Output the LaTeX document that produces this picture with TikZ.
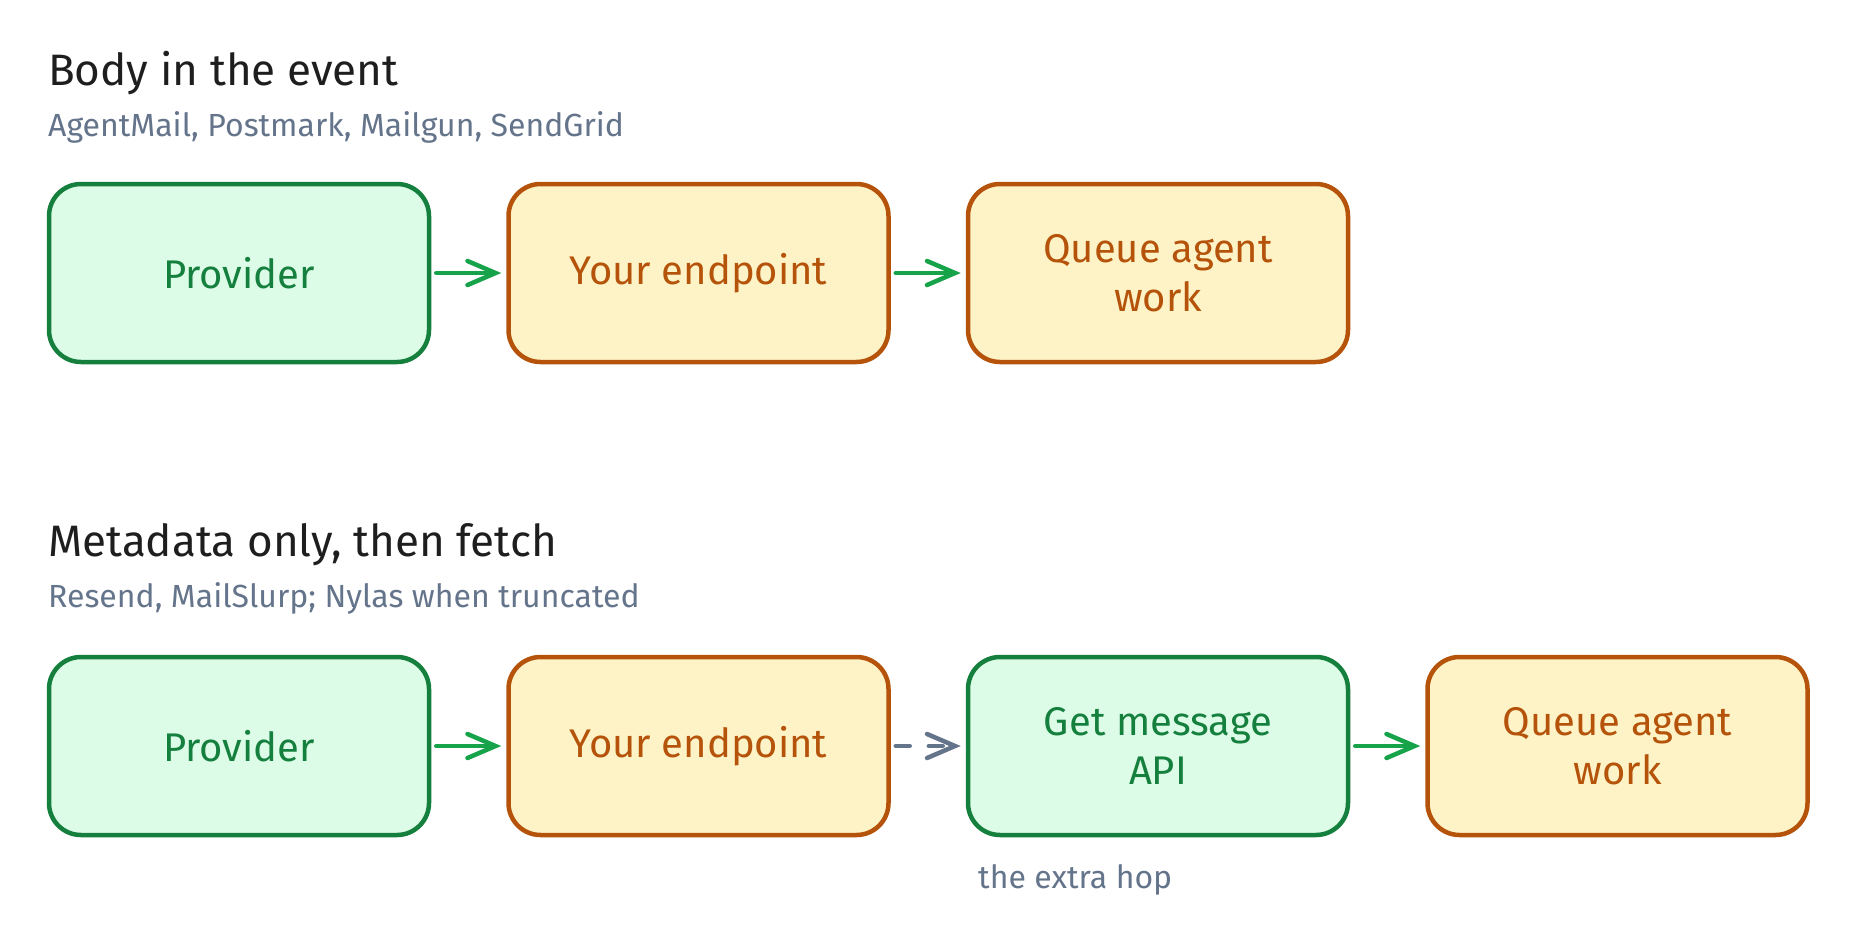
\documentclass[tikz,border=0pt]{standalone}
\usepackage{fontspec}
\setmainfont{Fira Sans}
\definecolor{okgreen}{HTML}{15803D}
\definecolor{okfill}{HTML}{DCFCE7}
\definecolor{hookorange}{HTML}{B45309}
\definecolor{hookfill}{HTML}{FEF3C7}
\definecolor{arrowgreen}{HTML}{16A34A}
\definecolor{slategrey}{HTML}{64748B}
\definecolor{inkblack}{HTML}{1E1E1E}
\usetikzlibrary{arrows.meta, positioning}

\begin{document}
\begin{tikzpicture}[x=1pt, y=-1pt, node distance=75pt,
    box/.style={rectangle, rounded corners=32pt, line width=4.5pt, minimum width=380pt, minimum height=178pt, align=center, font=\fontsize{40}{49}\selectfont},
    greenbox/.style={box, draw=okgreen, fill=okfill, text=okgreen},
    orangebox/.style={box, draw=hookorange, fill=hookfill, text=hookorange},
    heading/.style={anchor=base west, inner sep=0pt, text=inkblack, font=\fontsize{44}{48}\selectfont},
    subheading/.style={anchor=base west, inner sep=0pt, text=slategrey, font=\fontsize{32}{36}\selectfont},
    flow/.style={draw=arrowgreen, line width=4.5pt, line cap=round, -{Straight Barb[length=28pt, width=24pt, line cap=round]}, shorten <=5pt, shorten >=5pt},
    fetch/.style={flow, draw=slategrey, dash pattern=on 14pt off 19pt}]
    \useasboundingbox[fill=white] (0,0) rectangle (1856,948);

    % Body in the event
    \node[heading] (head1) at (48,85) {Body in the event};
    \node[subheading] (sub1) at (48,136) {AgentMail, Postmark, Mailgun, SendGrid};
    \node[greenbox] (prov1) at (239,273) {Provider};
    \node[orangebox, right=of prov1] (hook1) {Your endpoint};
    \node[orangebox, right=of hook1] (queue1) {Queue agent\\work};
    \draw[flow] (prov1) -- (hook1);
    \draw[flow] (hook1) -- (queue1);

    % Metadata only, then fetch
    \node[heading] (head2) at (48,556) {Metadata only, then fetch};
    \node[subheading] (sub2) at (48,607) {Resend, MailSlurp; Nylas when truncated};
    \node[greenbox] (prov2) at (239,746) {Provider};
    \node[orangebox, right=of prov2] (hook2) {Your endpoint};
    \node[greenbox, right=of hook2] (api2) {Get message\\API};
    \node[orangebox, right=of api2] (queue2) {Queue agent\\work};
    \draw[flow] (prov2) -- (hook2);
    \draw[fetch] (hook2) -- (api2);
    \draw[flow] (api2) -- (queue2);
    \node[subheading] (hop) at (978,888) {the extra hop};
\end{tikzpicture}
\end{document}
